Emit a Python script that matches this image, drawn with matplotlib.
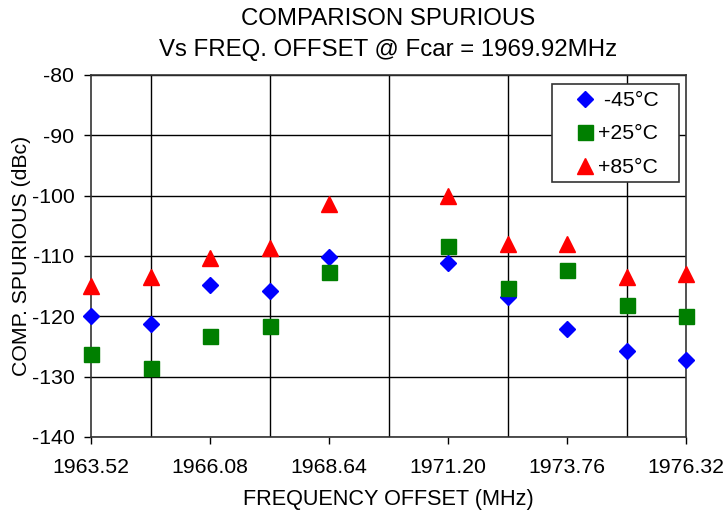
import matplotlib
matplotlib.use("Agg")
import matplotlib.pyplot as plt
from matplotlib.patches import Rectangle
import numpy as np

plt.rcParams['font.family'] = ['Liberation Sans', 'DejaVu Sans']
plt.rcParams['axes.unicode_minus'] = False

freq = [1963.52, 1964.80, 1966.08, 1967.36, 1968.64, 1971.20, 1972.48, 1973.76, 1975.04, 1976.32]
m45 = [-120.0, -121.2, -114.8, -115.8, -110.1, -111.1, -116.8, -122.1, -125.7, -127.3]
p25 = [-126.2, -128.5, -123.2, -121.6, -112.6, -108.3, -115.3, -112.3, -118.1, -119.9]
p85 = [-115.0, -113.4, -110.3, -108.6, -101.4, -100.0, -108.0, -108.0, -113.4, -113.0]
labels = [' -45°C', '+25°C', '+85°C']
xticks = [1963.52, 1966.08, 1968.64, 1971.20, 1973.76, 1976.32]
xgrid = [1963.52 + 1.28 * k for k in range(11)]

fig = plt.figure(figsize=(7.23, 5.14), dpi=100)
ax = fig.add_axes([91/723, 1-437/514, 595/723, 362/514])

ax.plot(freq, m45, linestyle='none', marker='D', ms=8.2, color='#0000ff', label=labels[0], clip_on=False, zorder=5)
ax.plot(freq, p25, linestyle='none', marker='s', ms=10.8, color='#007f00', label=labels[1], clip_on=False, zorder=5)
ax.plot(freq, p85, linestyle='none', marker='^', ms=11, color='#ff0000', label=labels[2], clip_on=False, zorder=5)

ax.set_xlim(1963.52, 1976.32)
ax.set_ylim(-140, -80)
ax.set_xticks(xticks)
ax.set_xticklabels([f"{v:.2f}" for v in xticks])
ax.set_xticks(xgrid, minor=True)
ax.set_yticks(np.arange(-140, -79, 10))
ax.tick_params(axis='both', which='major', direction='out', length=5, width=1, labelsize=15.3, colors='black')
ax.tick_params(axis='y', pad=7)
ax.tick_params(axis='x', pad=10)
ax.tick_params(axis='x', which='minor', length=0)
ax.grid(True, which='major', axis='y', color='black', linewidth=1)
ax.grid(True, which='minor', axis='x', color='black', linewidth=1)
for s in ax.spines.values():
    s.set_color('#333333')
    s.set_linewidth(1.2)
ax.set_axisbelow(True)

ax.set_xlabel('FREQUENCY OFFSET (MHz)', fontsize=15.6)
ax.xaxis.set_label_coords(0.5, -(500 - 437) / 362, transform=ax.transAxes)
ax.set_ylabel('COMP. SPURIOUS (dBc)', fontsize=15.3)
ax.yaxis.set_label_coords(-(91 - 22) / 595, 0.5)
ax.yaxis.label.set_va('center')
ax.xaxis.label.set_va('center')

cx = 0.5 * (91 + 686) / 723
fig.text(cx, 1 - 19/514, 'COMPARISON SPURIOUS', ha='center', va='center', fontsize=17.3)
fig.text(cx, 1 - 50/514, 'Vs FREQ. OFFSET @ Fcar = 1969.92MHz', ha='center', va='center', fontsize=17.3)

# legend box
x0 = (552 - 91) / 595
x1 = (679 - 91) / 595
y1 = (437 - 84) / 362
y0 = (437 - 182) / 362
ax.add_patch(Rectangle((x0, y0), x1 - x0, y1 - y0, transform=ax.transAxes, facecolor='white',
                       edgecolor='#333333', linewidth=1.2, zorder=6, clip_on=False))
leg = ax.legend(loc='center left', bbox_to_anchor=((586 - 91) / 595 - 0.017, (437 - 134) / 362),
                borderaxespad=0, borderpad=0, fontsize=15.3, frameon=False, labelspacing=0.68,
                handletextpad=0.15, handlelength=0.9, numpoints=1)
leg.set_zorder(7)

fig.savefig('out.png', dpi=100)
